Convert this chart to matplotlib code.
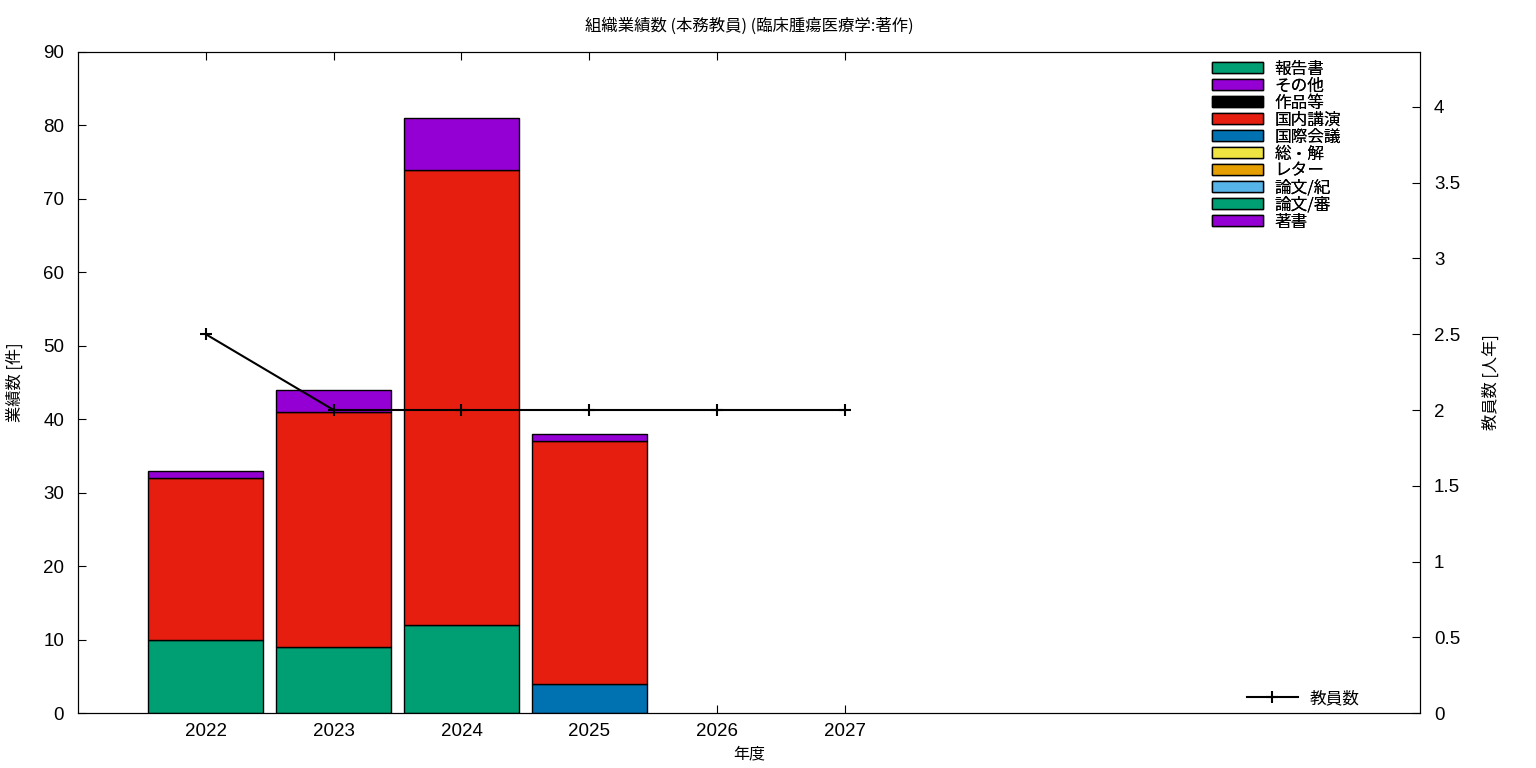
import numpy as np
import matplotlib.pyplot as plt
from matplotlib.patches import Patch
from matplotlib.lines import Line2D

plt.rcParams['font.family'] = ['Noto Sans CJK JP', 'DejaVu Sans']

years = [2022, 2023, 2024, 2025, 2026, 2027]
# stacking order, bottom first
categories = ['著書', '論文/審', '論文/紀', 'レター', '総・解', '国際会議', '国内講演', '作品等', 'その他', '報告書']
colors = ['#9400d3', '#009e73', '#56b4e9', '#e69f00', '#f0e442', '#0072b2', '#e51e10', '#000000', '#9400d3', '#009e73']
values = {
    '著書':     [0, 0, 0, 0, 0, 0],
    '論文/審':  [10, 9, 12, 0, 0, 0],
    '論文/紀':  [0, 0, 0, 0, 0, 0],
    'レター':   [0, 0, 0, 0, 0, 0],
    '総・解':   [0, 0, 0, 0, 0, 0],
    '国際会議': [0, 0, 0, 4, 0, 0],
    '国内講演': [22, 32, 62, 33, 0, 0],
    '作品等':   [0, 0, 0, 0, 0, 0],
    'その他':   [1, 3, 7, 1, 0, 0],
    '報告書':   [0, 0, 0, 0, 0, 0],
}
staff = [2.5, 2, 2, 2, 2, 2]

tickfont = ['Liberation Sans', 'DejaVu Sans']

fig = plt.figure(figsize=(15.36, 7.68), dpi=100)
ax = fig.add_axes([0.0508, 0.0716, 0.8737, 0.8607])

bottom = np.zeros(len(years))
for cat, col in zip(categories, colors):
    v = np.array(values[cat], dtype=float)
    mask = v > 0
    ax.bar(np.array(years)[mask], v[mask], width=0.9, bottom=bottom[mask],
           color=col, edgecolor='black', linewidth=1.0, zorder=2)
    bottom += v

ax.set_xlim(2021.0, 2031.5)
ax.set_ylim(0, 90)
ax.set_xticks(years)
ax.set_yticks(range(0, 91, 10))
ax.tick_params(axis='x', direction='in', top=True, length=6, labelsize=13.5, pad=7)
ax.tick_params(axis='y', direction='in', length=6, labelsize=13.5, pad=10)
for lab in ax.get_xticklabels() + ax.get_yticklabels():
    lab.set_family(tickfont)
ax.set_xlabel('年度', fontsize=11.5)
ax.set_ylabel('業績数 [件]', fontsize=11.7, labelpad=14)
ax.set_title('組織業績数 (本務教員) (臨床腫瘍医療学:著作)', fontsize=11.8, pad=15)

ax2 = ax.twinx()
ax2.plot(years, staff, color='black', linewidth=1.5, marker='+', markersize=8,
         markeredgewidth=1.5, zorder=3)
ax2.set_ylim(0, 4.363)
ax2.set_yticks([0, 0.5, 1, 1.5, 2, 2.5, 3, 3.5, 4])
ax2.set_yticklabels(['0', '0.5', '1', '1.5', '2', '2.5', '3', '3.5', '4'])
ax2.tick_params(axis='y', direction='in', length=6, labelsize=13.5, pad=10)
for lab in ax2.get_yticklabels():
    lab.set_family(tickfont)
ax2.set_ylabel('教員数 [人年]', fontsize=11.7, labelpad=16)

handles = [Patch(facecolor=c, edgecolor='black', linewidth=1.0) for c in colors][::-1]
labels = categories[::-1]
leg = ax.legend(handles, labels, loc='upper right', bbox_to_anchor=(0.941, 0.987),
                frameon=False, fontsize=12, handlelength=3.06, handleheight=0.6,
                labelspacing=0.0, handletextpad=0.66, borderaxespad=0.0, borderpad=0.0)
ax.add_artist(leg)

line_h = [Line2D([0], [0], color='black', linewidth=1.5, marker='+',
                 markersize=8, markeredgewidth=1.5)]
ax2.legend(line_h, ['教員数'], loc='lower right', bbox_to_anchor=(0.959, 0.0),
           frameon=False, fontsize=12, handlelength=3.06, handletextpad=0.7,
           borderaxespad=0.0, borderpad=0.35)

fig.savefig('out.png', dpi=100)
